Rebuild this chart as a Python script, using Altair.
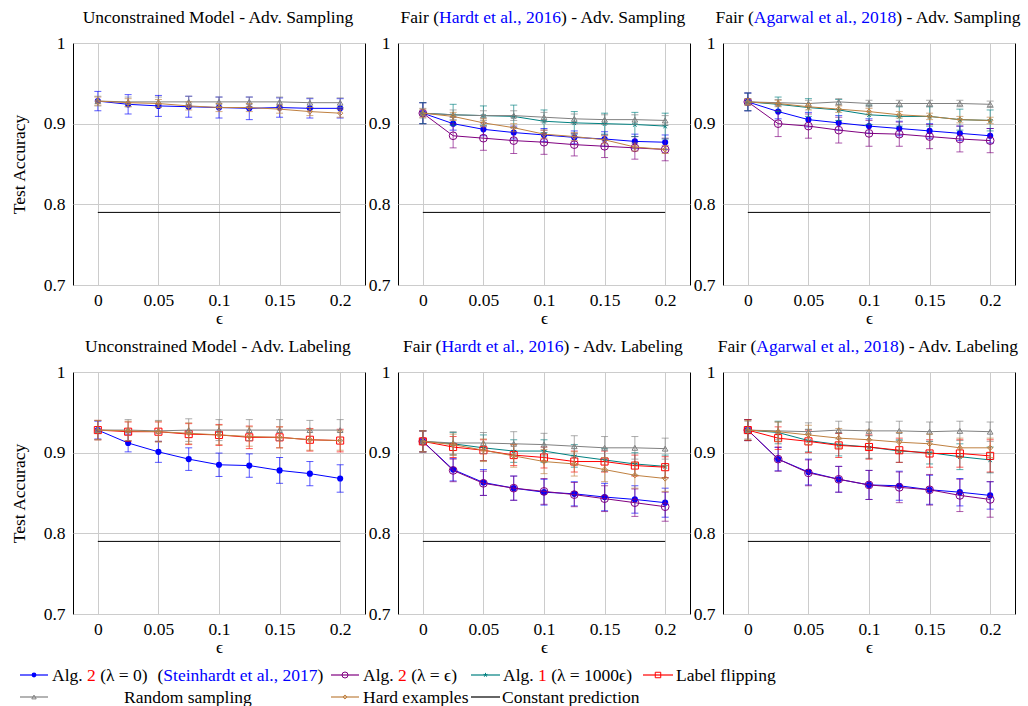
import altair as alt
import pandas as pd

# ---------------- data ----------------
EPS = [0.0, 0.025, 0.05, 0.075, 0.1, 0.125, 0.15, 0.175, 0.2]
X_TICKS = [0, 0.05, 0.1, 0.15, 0.2]
Y_TICKS = [0.7, 0.8, 0.9, 1.0]
CONST_X = [0.0, 0.2]
CONST_ACC = [0.79, 0.79]

# Unconstrained model - adv. sampling
US_STEIN = [0.928, 0.924, 0.922, 0.921, 0.920, 0.919, 0.920, 0.919, 0.919]
US_STEIN_ERR = [0.012, 0.012, 0.013, 0.013, 0.013, 0.014, 0.012, 0.012, 0.012]
US_RANDOM = [0.928, 0.927, 0.927, 0.927, 0.927, 0.927, 0.927, 0.926, 0.926]
US_RANDOM_ERR = [0.006, 0.006, 0.006, 0.007, 0.006, 0.006, 0.006, 0.006, 0.006]
US_HARD = [0.928, 0.926, 0.925, 0.922, 0.920, 0.920, 0.918, 0.915, 0.913]
US_HARD_ERR = [0.005, 0.005, 0.005, 0.005, 0.005, 0.005, 0.005, 0.005, 0.005]

# Fair (Hardt) - adv. sampling
HS_STEIN = [0.913, 0.900, 0.893, 0.889, 0.886, 0.883, 0.881, 0.878, 0.877]
HS_STEIN_ERR = [0.013, 0.008, 0.008, 0.008, 0.008, 0.008, 0.009, 0.009, 0.009]
HS_ALG2 = [0.913, 0.885, 0.882, 0.879, 0.877, 0.874, 0.872, 0.870, 0.868]
HS_ALG2_ERR = [0.013, 0.015, 0.015, 0.016, 0.015, 0.014, 0.014, 0.014, 0.014]
HS_ALG1 = [0.913, 0.911, 0.910, 0.909, 0.903, 0.901, 0.900, 0.899, 0.897]
HS_ALG1_ERR = [0.013, 0.013, 0.012, 0.014, 0.014, 0.014, 0.013, 0.015, 0.016]
HS_RANDOM = [0.913, 0.911, 0.910, 0.910, 0.908, 0.906, 0.905, 0.905, 0.904]
HS_RANDOM_ERR = [0.006, 0.006, 0.006, 0.006, 0.006, 0.006, 0.006, 0.006, 0.006]
HS_HARD = [0.913, 0.909, 0.901, 0.895, 0.887, 0.884, 0.880, 0.871, 0.868]
HS_HARD_ERR = [0.005, 0.005, 0.005, 0.005, 0.005, 0.005, 0.005, 0.005, 0.005]

# Fair (Agarwal) - adv. sampling
AS_STEIN = [0.927, 0.915, 0.905, 0.901, 0.897, 0.894, 0.891, 0.888, 0.885]
AS_STEIN_ERR = [0.011, 0.009, 0.009, 0.009, 0.009, 0.009, 0.009, 0.009, 0.009]
AS_ALG2 = [0.927, 0.900, 0.897, 0.892, 0.888, 0.887, 0.884, 0.881, 0.879]
AS_ALG2_ERR = [0.011, 0.016, 0.015, 0.016, 0.016, 0.015, 0.015, 0.016, 0.015]
AS_ALG1 = [0.927, 0.924, 0.920, 0.917, 0.911, 0.909, 0.909, 0.905, 0.904]
AS_ALG1_ERR = [0.011, 0.009, 0.011, 0.013, 0.012, 0.012, 0.012, 0.013, 0.013]
AS_RANDOM = [0.927, 0.926, 0.925, 0.927, 0.925, 0.925, 0.925, 0.925, 0.924]
AS_RANDOM_ERR = [0.004, 0.004, 0.004, 0.004, 0.004, 0.004, 0.004, 0.004, 0.004]
AS_HARD = [0.927, 0.925, 0.921, 0.918, 0.915, 0.911, 0.909, 0.905, 0.904]
AS_HARD_ERR = [0.004, 0.004, 0.004, 0.004, 0.004, 0.004, 0.004, 0.004, 0.004]

# Unconstrained model - adv. labeling
UL_STEIN = [0.928, 0.912, 0.901, 0.892, 0.885, 0.884, 0.878, 0.874, 0.868]
UL_STEIN_ERR = [0.011, 0.011, 0.013, 0.014, 0.0145, 0.0145, 0.016, 0.015, 0.017]
UL_FLIP = [0.928, 0.926, 0.926, 0.923, 0.922, 0.919, 0.919, 0.916, 0.915]
UL_FLIP_ERR = [0.012, 0.012, 0.012, 0.013, 0.013, 0.014, 0.013, 0.014, 0.014]
UL_RANDOM = [0.928, 0.928, 0.927, 0.928, 0.928, 0.928, 0.928, 0.928, 0.928]
UL_RANDOM_ERR = [0.012, 0.013, 0.013, 0.014, 0.013, 0.013, 0.013, 0.012, 0.013]
UL_HARD = [0.928, 0.927, 0.926, 0.924, 0.922, 0.920, 0.919, 0.916, 0.915]
UL_HARD_ERR = [0.012, 0.012, 0.013, 0.013, 0.012, 0.012, 0.013, 0.013, 0.012]

# Fair (Hardt) - adv. labeling
HL_STEIN = [0.914, 0.879, 0.863, 0.856, 0.851, 0.849, 0.845, 0.842, 0.838]
HL_STEIN_ERR = [0.013, 0.014, 0.016, 0.015, 0.016, 0.015, 0.017, 0.017, 0.018]
HL_ALG2 = [0.914, 0.878, 0.862, 0.856, 0.852, 0.848, 0.843, 0.838, 0.833]
HL_ALG2_ERR = [0.013, 0.014, 0.015, 0.015, 0.016, 0.015, 0.016, 0.017, 0.018]
HL_ALG1 = [0.914, 0.911, 0.906, 0.902, 0.902, 0.896, 0.891, 0.886, 0.883]
HL_ALG1_ERR = [0.013, 0.014, 0.016, 0.014, 0.014, 0.014, 0.014, 0.014, 0.014]
HL_FLIP = [0.914, 0.907, 0.903, 0.897, 0.894, 0.889, 0.889, 0.884, 0.882]
HL_FLIP_ERR = [0.013, 0.013, 0.013, 0.013, 0.013, 0.013, 0.013, 0.013, 0.013]
HL_RANDOM = [0.914, 0.912, 0.912, 0.911, 0.910, 0.908, 0.906, 0.906, 0.905]
HL_RANDOM_ERR = [0.013, 0.014, 0.013, 0.015, 0.014, 0.013, 0.014, 0.014, 0.013]
HL_HARD = [0.914, 0.910, 0.903, 0.896, 0.889, 0.886, 0.879, 0.872, 0.868]
HL_HARD_ERR = [0.013, 0.013, 0.014, 0.014, 0.015, 0.015, 0.015, 0.016, 0.016]

# Fair (Agarwal) - adv. labeling
AL_STEIN = [0.928, 0.892, 0.876, 0.867, 0.860, 0.859, 0.854, 0.851, 0.847]
AL_STEIN_ERR = [0.013, 0.0145, 0.016, 0.016, 0.018, 0.018, 0.018, 0.017, 0.017]
AL_ALG2 = [0.928, 0.892, 0.875, 0.867, 0.860, 0.857, 0.854, 0.847, 0.842]
AL_ALG2_ERR = [0.013, 0.015, 0.016, 0.016, 0.018, 0.019, 0.019, 0.020, 0.022]
AL_ALG1 = [0.928, 0.925, 0.915, 0.910, 0.907, 0.902, 0.900, 0.895, 0.891]
AL_ALG1_ERR = [0.013, 0.014, 0.014, 0.014, 0.014, 0.014, 0.014, 0.016, 0.016]
AL_FLIP = [0.928, 0.918, 0.914, 0.909, 0.907, 0.903, 0.899, 0.899, 0.896]
AL_FLIP_ERR = [0.013, 0.014, 0.014, 0.015, 0.015, 0.015, 0.017, 0.017, 0.020]
AL_RANDOM = [0.928, 0.927, 0.926, 0.928, 0.927, 0.927, 0.926, 0.927, 0.926]
AL_RANDOM_ERR = [0.011, 0.011, 0.011, 0.011, 0.011, 0.012, 0.012, 0.012, 0.012]
AL_HARD = [0.928, 0.926, 0.922, 0.918, 0.916, 0.913, 0.911, 0.906, 0.906]
AL_HARD_ERR = [0.012, 0.012, 0.012, 0.012, 0.012, 0.012, 0.012, 0.012, 0.012]

# ---------------- style ----------------
FONT = "Liberation Serif"
FS = 17.5
BLUE = "#0000ff"
PURPLE = "#800080"
TEAL = "#008080"
RED = "#ff0000"
GRAY = "#808080"
BROWN = "#bf8040"
STAR = "M0,0L0,-1M0,0L0.951,-0.309M0,0L0.588,0.809M0,0L-0.588,0.809M0,0L-0.951,-0.309"

STYLE = {
    "stein": dict(color=BLUE, shape="circle", size=38, filled=True),
    "alg2": dict(color=PURPLE, shape="circle", size=60, filled=False),
    "alg1": dict(color=TEAL, shape=STAR, size=30, filled=False),
    "flip": dict(color=RED, shape="square", size=50, filled=False),
    "random": dict(color=GRAY, shape="triangle-up", size=32, filled=False),
    "hard": dict(color=BROWN, shape="diamond", size=28, filled=False),
}

W, H = 292, 242

TNR = {' ': 250, '(': 333, ')': 333, ',': 250, '-': 333, '.': 250, '=': 564,
       'A': 722, 'C': 667, 'F': 556, 'H': 722, 'L': 611, 'M': 889, 'R': 667, 'S': 556, 'T': 611, 'U': 722,
       'a': 444, 'b': 500, 'c': 444, 'd': 500, 'e': 444, 'f': 333, 'g': 500, 'h': 500, 'i': 278,
       'k': 500, 'l': 278, 'm': 778, 'n': 500, 'o': 500, 'p': 500, 'r': 333, 's': 389, 't': 278,
       'u': 500, 'v': 500, 'w': 722, 'x': 500, 'y': 500, 'λ': 549, 'ϵ': 440}


def tw(s, fs=FS):
    return sum(TNR.get(ch, 500) for ch in s) / 1000.0 * fs


ONE = alt.Data(values=[{}])


def seg_text_layers(segments, x_start, y, fs=FS):
    layers = []
    x = x_start
    for text, color in segments:
        lead = len(text) - len(text.lstrip(' '))
        layers.append(
            alt.Chart(ONE).mark_text(align="left", baseline="alphabetic", font=FONT, fontSize=fs, color=color)
            .encode(x=alt.value(x + tw(text[:lead], fs)), y=alt.value(y), text=alt.value(text.strip()))
        )
        x += tw(text, fs)
    return layers


def xenc():
    return alt.X("eps:Q", scale=alt.Scale(domain=[-0.0205, 0.2205], nice=False, zero=False),
                 axis=alt.Axis(values=X_TICKS, format="~g", title="ϵ", labelPadding=6, titlePadding=1))


def yenc(field, show_title):
    if show_title:
        ax = alt.Axis(values=Y_TICKS, format="~g", title="Test Accuracy", labelPadding=8, titlePadding=15)
    else:
        ax = alt.Axis(values=Y_TICKS, format="~g", title=None, labelPadding=8)
    return alt.Y(field + ":Q", scale=alt.Scale(domain=[0.7, 1.0], nice=False, zero=False), axis=ax)


def series_layers(key, vals, errs, show_title):
    st = STYLE[key]
    df = pd.DataFrame({"eps": EPS, "acc": vals, "err": errs})
    df["lo"] = df["acc"] - df["err"]
    df["hi"] = df["acc"] + df["err"]
    base = alt.Chart(df)
    rule = base.mark_rule(color=st["color"], opacity=0.65, strokeWidth=1).encode(
        x=xenc(), y=yenc("lo", show_title), y2="hi:Q")
    cap_lo = base.mark_tick(color=st["color"], opacity=0.65, orient="horizontal", size=7, thickness=1).encode(
        x=xenc(), y=yenc("lo", show_title))
    cap_hi = base.mark_tick(color=st["color"], opacity=0.65, orient="horizontal", size=7, thickness=1).encode(
        x=xenc(), y=yenc("hi", show_title))
    line = base.mark_line(color=st["color"], strokeWidth=1).encode(x=xenc(), y=yenc("acc", show_title))
    pts = base.mark_point(shape=st["shape"], size=st["size"], color=st["color"], filled=st["filled"],
                          strokeWidth=1, opacity=1).encode(x=xenc(), y=yenc("acc", show_title))
    return [rule, cap_lo, cap_hi, line, pts]


# ---------------- legend (drawn inside the bottom-left panel's layer) ----------------
OX = 71    # absolute x of the left plot's left edge
OY = 371   # absolute y of the bottom row's plot top
R1, R2 = 674 - OY, 696 - OY
LFS = 17.5


def sample(key, x0, x1, y):
    out = []
    color = STYLE[key]["color"] if key != "const" else "black"
    out.append(alt.Chart(ONE).mark_rule(color=color, strokeWidth=1.2).encode(
        x=alt.value(x0 - OX), x2=alt.value(x1 - OX), y=alt.value(y)))
    if key != "const":
        st = STYLE[key]
        out.append(alt.Chart(ONE).mark_point(shape=st["shape"], size=st["size"] * 0.6, color=color,
                                             filled=st["filled"], strokeWidth=1, opacity=1).encode(
            x=alt.value((x0 + x1) / 2 - OX), y=alt.value(y)))
    return out


def legend_layers():
    leg = []
    leg += sample("stein", 18, 46, R1)
    leg += seg_text_layers([("Alg. ", "black"), ("2", RED), (" (λ = 0)", "black"), ("  (", "black"),
                            ("Steinhardt et al., 2017", BLUE), (")", "black")], 50 - OX, R1 + 6, LFS)
    leg += sample("alg2", 329, 357, R1)
    leg += seg_text_layers([("Alg. ", "black"), ("2", RED), (" (λ = ϵ)", "black")], 361 - OX, R1 + 6, LFS)
    leg += sample("alg1", 469, 498, R1)
    leg += seg_text_layers([("Alg. ", "black"), ("1", RED), (" (λ = 1000ϵ)", "black")], 501 - OX, R1 + 6, LFS)
    leg += sample("flip", 641, 671, R1)
    leg += seg_text_layers([("Label flipping", "black")], 674 - OX, R1 + 6, LFS)
    leg += sample("random", 18, 46, R2)
    leg += seg_text_layers([("Random sampling", "black")], 122 - OX, R2 + 6, LFS)
    leg += sample("hard", 329, 357, R2)
    leg += seg_text_layers([("Hard examples", "black")], 361 - OX, R2 + 6, LFS)
    leg += sample("const", 469, 498, R2)
    leg += seg_text_layers([("Constant prediction", "black")], 500 - OX, R2 + 6, LFS)
    return leg


def panel(series, title_segments, show_title, extra=None):
    layers = []
    const = alt.Chart(pd.DataFrame({"eps": CONST_X, "acc": CONST_ACC})).mark_line(
        color="black", strokeWidth=1).encode(x=xenc(), y=yenc("acc", show_title))
    layers.append(const)
    for key, vals, errs in series:
        layers += series_layers(key, vals, errs, show_title)
    total = sum(tw(t) for t, _ in title_segments)
    layers += seg_text_layers(title_segments, W / 2 - total / 2, -20)
    if extra:
        layers += extra
    return alt.layer(*layers).properties(width=W, height=H)


def fair_title(who, kind):
    return [("Fair (", "black"), (who, BLUE), (") - Adv. " + kind, "black")]


p1 = panel([("stein", US_STEIN, US_STEIN_ERR), ("random", US_RANDOM, US_RANDOM_ERR),
            ("hard", US_HARD, US_HARD_ERR)],
           [("Unconstrained Model - Adv. Sampling", "black")], True)
p2 = panel([("stein", HS_STEIN, HS_STEIN_ERR), ("alg2", HS_ALG2, HS_ALG2_ERR), ("alg1", HS_ALG1, HS_ALG1_ERR),
            ("random", HS_RANDOM, HS_RANDOM_ERR), ("hard", HS_HARD, HS_HARD_ERR)],
           fair_title("Hardt et al., 2016", "Sampling"), False)
p3 = panel([("stein", AS_STEIN, AS_STEIN_ERR), ("alg2", AS_ALG2, AS_ALG2_ERR), ("alg1", AS_ALG1, AS_ALG1_ERR),
            ("random", AS_RANDOM, AS_RANDOM_ERR), ("hard", AS_HARD, AS_HARD_ERR)],
           fair_title("Agarwal et al., 2018", "Sampling"), False)
p4 = panel([("stein", UL_STEIN, UL_STEIN_ERR), ("flip", UL_FLIP, UL_FLIP_ERR),
            ("random", UL_RANDOM, UL_RANDOM_ERR), ("hard", UL_HARD, UL_HARD_ERR)],
           [("Unconstrained Model - Adv. Labeling", "black")], True, extra=legend_layers())
p5 = panel([("stein", HL_STEIN, HL_STEIN_ERR), ("alg2", HL_ALG2, HL_ALG2_ERR), ("alg1", HL_ALG1, HL_ALG1_ERR),
            ("flip", HL_FLIP, HL_FLIP_ERR), ("random", HL_RANDOM, HL_RANDOM_ERR), ("hard", HL_HARD, HL_HARD_ERR)],
           fair_title("Hardt et al., 2016", "Labeling"), False)
p6 = panel([("stein", AL_STEIN, AL_STEIN_ERR), ("alg2", AL_ALG2, AL_ALG2_ERR), ("alg1", AL_ALG1, AL_ALG1_ERR),
            ("flip", AL_FLIP, AL_FLIP_ERR), ("random", AL_RANDOM, AL_RANDOM_ERR), ("hard", AL_HARD, AL_HARD_ERR)],
           fair_title("Agarwal et al., 2018", "Labeling"), False)

chart = alt.concat(p1, p2, p3, p4, p5, p6, columns=3, spacing={"row": 87, "column": 33},
                   bounds="flush").properties(
    padding={"left": 9, "top": 8, "right": 5, "bottom": 2}
).configure_view(
    stroke="black", strokeWidth=1
).configure_axis(
    grid=True, gridColor="#cccccc", gridWidth=1, domain=False, ticks=False,
    labelFont=FONT, titleFont=FONT, labelFontSize=FS, titleFontSize=FS,
    labelColor="black", titleColor="black", titleFontWeight="normal"
)

chart.save("out.html", embed_options={"renderer": "svg", "actions": False})
